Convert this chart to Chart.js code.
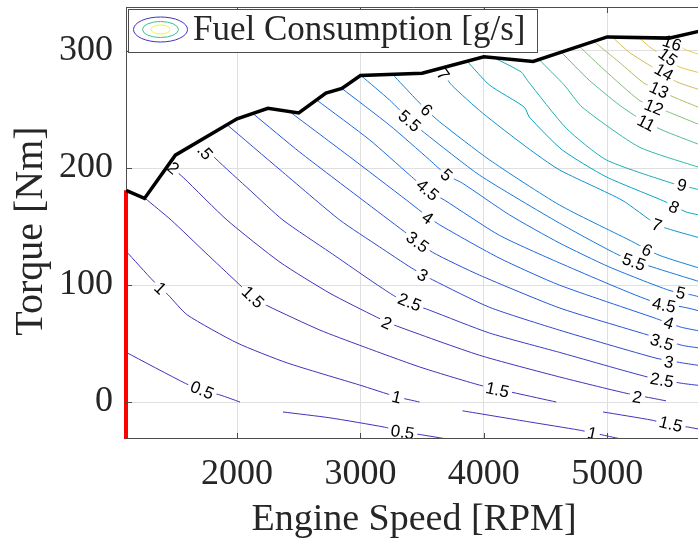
<!DOCTYPE html>
<html>
<head>
<meta charset="utf-8">
<script src="https://cdn.jsdelivr.net/npm/chart.js@4.4.1/dist/chart.umd.min.js"></script>
<style>
  html, body { margin: 0; padding: 0; background: #fff; overflow: hidden; }
  #wrap { position: absolute; left: 0; top: 0; width: 710px; height: 540px; }
</style>
</head>
<body>
<div id="wrap"><canvas id="fuelMap" width="710" height="540"></canvas></div>
<script>
// axis ranges and ticks
const speedMin = 1100, speedMax = 5760
const torqueMin = -31.6, torqueMax = 337.6
const speedTicks = [2000, 3000, 4000, 5000]
const torqueTicks = [0, 100, 200, 300]

// max torque curve
const maxSpeed = [1100, 1250, 1500, 2000, 2250, 2500, 2720, 2850, 3000, 3500, 4000, 4400, 5000, 5500, 5750]
const maxTorque = [181, 174, 211, 242, 251, 247, 264, 268, 279, 281, 295, 291, 312, 311, 317]

// contour levels [g/s]
const levels = [0.5, 1, 1.5, 2, 2.5, 3, 3.5, 4, 4.5, 5, 5.5, 6, 7, 8, 9, 10, 11, 12, 13, 14, 15, 16]

// contour lines as [rpm, Nm], null = break in the line
const c0_5 = [[1100,42.5],[1580,16],[1717,10],[1863,6],[2024,0],null,[2372,-8.5],[2752,-13.5],[3196,-21.5],[3342,-25.5],[3496,-28],[3780,-33]]
const c1 = [[1100,129],[1321,103.5],[1442,91.5],[1596,74.5],[2000,50.5],[2404,33.5],[2994,14.5],[3293,4.5],[3479,0],null,[3827,-7.5],[4369,-17],[4773,-24],[5000,-29],[5193,-33.5]]
const c1_5 = [[1256,174],[1466,155.5],[1741,128],[2008,101.5],[2129,89.5],[2251,82],[2671,61.5],[2994,48.5],[3479,30],[3964,14.5],[4264,7.5],[4587,0],null,[4967,-8.5],[5363,-15.5],[5516,-19.5],[5662,-21.5],[5760,-23.5]]
const c2 = [[1442,203],[1563,192],[1919,155.5],[2348,119.5],[2752,93],[3132,72.5],[3293,65],[3964,40],[4611,21.5],[5153,7.5],[5355,3.5],[5476,1]]
const c2_5 = [[1701,223],[1822,208.5],[2105,181],[2372,155.5],[2752,128],[3293,89.5],[3560,78.5],[4045,59],[4611,42.5],[5323,21.5],[5605,16],[5760,14]]
const c3 = [[1919,237],[2348,198.5],[2833,155.5],[3156,132.5],[3415,114.5],[3584,104.5],[4045,81],[4611,61.5],[5395,37.5],[5605,33.5],[5760,31]]
const c3_5 = [[2129,246.5],[2509,213.5],[3019,172.5],[3358,145.5],[3584,128],[3964,108.5],[4611,80.5],[5323,57.5],[5605,48.5],[5760,46]]
const c4 = [[2428,248],[2914,209.5],[3374,172.5],[3496,162.5],[3641,151.5],[4126,123],[4611,100],[5379,72],[5597,64],[5760,60.5]]
const c4_5 = [[2647,258],[3075,224],[3399,194],[3544,181],[3682,172.5],[4126,142.5],[4611,119],[5339,87],[5646,80.5],[5760,77.5]]
const c5 = [[2849,268],[3237,236.5],[3560,207],[3698,194],[3827,187],[4207,160],[4611,136],[5015,115.5],[5500,95.5],[5686,91.5],[5760,89.5]]
const c5_5 = [[3010,278.5],[3237,258],[3399,241],[3520,230],[3964,194],[4611,153],[5096,125.5],[5363,115.5],[5760,102.5]]
const c6 = [[3261,280],[3439,260],[3536,249.5],[3641,239.5],[4045,207],[4611,168.5],[5177,138.5],[5420,125.5],[5760,114]]
const c7 = [[3641,285],[3738,271],[3989,247],[4344,218],[4611,198.5],[5120,172.5],[5403,151.5],[5525,147],[5760,140]]
const c8 = [[3867,291],[4045,271],[4328,252],[4369,243.5],[4635,215.5],[4991,192.5],[5476,171],[5638,162.5],[5760,159.5]]
const c9 = [[4086,294],[4304,282],[4352,275],[4668,234],[4991,207],[5525,187],[5686,183],[5760,181]]
const c10 = [[4449,292.5],[4651,271],[4797,252],[5258,218],[5760,200]]
const c11 = [[4627,299],[4854,275],[5096,254],[5258,242.5],[5444,232.5],[5760,219.5]]
const c12 = [[4773,304],[4975,284],[5258,258],[5395,252],[5516,247],[5760,236.5]]
const c13 = [[4894,308],[5096,290.5],[5298,272.5],[5420,266.5],[5541,260.5],[5760,251]]
const c14 = [[5040,312],[5177,299],[5339,288],[5444,281],[5565,273.5],[5760,266.5]]
const c15 = [[5258,311.5],[5355,302.5],[5484,294],[5581,286.5],[5760,281]]
const c16 = [[5420,311],[5530,307],[5638,301],[5760,296.5]]

const contours = [c0_5, c1, c1_5, c2, c2_5, c3, c3_5, c4, c4_5, c5, c5_5, c6, c7, c8, c9, c10, c11, c12, c13, c14, c15, c16]

// inline contour labels: text, level, rpm, Nm
const labelText = ['0.5','0.5','1','1','1','1.5','1.5','1.5','2','2','2','.5','2.5','2.5','3','3','3.5','3.5','4','4','4.5','4.5','5','5','5.5','5.5','6','6','7','7','8','9','11','12','13','14','15','16']
const labelLevel = [0.5,0.5,1,1,1,1.5,1.5,1.5,2,2,2,2.5,2.5,2.5,3,3,3.5,3.5,4,4,4.5,4.5,5,5,5.5,5.5,6,6,7,7,8,9,11,12,13,14,15,16]
const labelSpeed = [1717,3342,1378,3293,4878,2129,4110,5516,1483,3213,5242,1741,3399,5444,3504,5500,3463,5444,3544,5500,3544,5460,3698,5597,3399,5217,3536,5323,3670,5403,5541,5605,5315,5379,5420,5460,5492,5525]
const labelTorque = [10.3,-25.6,97.4,4.3,-26.5,89.7,10.5,-18.8,200,67.5,4.3,213.7,85.5,18.8,108.5,34.2,136.8,51.3,157.3,67.5,181.2,82.9,194,93.2,240.2,119.7,249.6,129.9,280,151.3,166.7,185.5,238.5,252.1,266.7,282,294.9,306.8]

// parula-like colormap
const parula = [[66,50,186],[32,96,228],[20,133,215],[6,167,198],[56,185,158],[146,191,115],[225,185,82],[252,206,46],[249,251,14]]
function levelColor(v) {
  let t = Math.max(0, Math.min(1, (v - 2) / 16.5))
  const p = t * (parula.length - 1)
  const i = Math.min(Math.floor(p), parula.length - 2)
  const f = p - i
  const c = parula[i].map((a, k) => Math.round(a + (parula[i + 1][k] - a) * f))
  return 'rgb(' + c.join(',') + ')'
}

function toPoints(line) {
  let last = 0
  return line.map(p => {
    if (!p) return { x: last, y: null }
    last = p[0]
    return { x: p[0], y: p[1] }
  })
}

const serif = "'Liberation Serif', 'DejaVu Serif', serif"
const sans = "'Liberation Sans', Arial, sans-serif"
const textColor = '#262626'

const datasets = [
  {
    label: 'Max torque',
    data: maxSpeed.map((s, i) => ({ x: s, y: maxTorque[i] })),
    borderColor: '#000', borderWidth: 3.5, showLine: true, pointRadius: 0
  },
  {
    label: 'Min speed',
    data: [{ x: speedMin, y: torqueMin }, { x: speedMin, y: maxTorque[0] }],
    borderColor: '#ff0000', borderWidth: 4, showLine: true, pointRadius: 0,
    clip: 6,
    isSpeedLimit: true
  }
]
levels.forEach((v, i) => {
  datasets.push({
    label: 'FC ' + v,
    data: toPoints(contours[i]),
    borderColor: levelColor(v),
    borderWidth: 1,
    showLine: true,
    pointRadius: 0,
    tension: 0.2,
    isContour: true
  })
})

// label boxes in pixels, with angle along the line
function labelBoxes(chart) {
  const xs = chart.scales.x, ys = chart.scales.y
  const ctx = chart.ctx
  ctx.save()
  ctx.font = '17px ' + sans
  const boxes = labelText.map((txt, i) => {
    const cx = xs.getPixelForValue(labelSpeed[i])
    const cy = ys.getPixelForValue(labelTorque[i])
    const line = contours[levels.indexOf(labelLevel[i])].filter(p => p)
      .map(p => [xs.getPixelForValue(p[0]), ys.getPixelForValue(p[1])])
    let best = 1e9, ang = 0
    for (let k = 0; k < line.length - 1; k++) {
      const [x1, y1] = line[k], [x2, y2] = line[k + 1]
      const dx = x2 - x1, dy = y2 - y1
      const len2 = dx * dx + dy * dy || 1
      let t = ((cx - x1) * dx + (cy - y1) * dy) / len2
      t = Math.max(0, Math.min(1, t))
      const d = Math.hypot(x1 + t * dx - cx, y1 + t * dy - cy)
      if (d < best) { best = d; ang = Math.atan2(dy, dx) }
    }
    if (ang > Math.PI / 2) ang -= Math.PI
    if (ang < -Math.PI / 2) ang += Math.PI
    return { txt, cx, cy, ang, hw: ctx.measureText(txt).width / 2 + 3, hh: 7 }
  })
  ctx.restore()
  return boxes
}

// no extra room for tick labels, the plot area is fixed
function fixScale(s, size) {
  if (s.isHorizontal()) s.height = size; else s.width = size
  s.paddingLeft = 0; s.paddingRight = 0; s.paddingTop = 0; s.paddingBottom = 0
}

const mapPlugin = {
  id: 'fuelMap',
  beforeDatasetsDraw(chart) {
    chart.$boxes = labelBoxes(chart)
  },
  beforeDatasetDraw(chart, args) {
    const ds = chart.data.datasets[args.index]
    const ctx = chart.ctx
    if (ds.isContour) {
      const a = chart.chartArea
      ctx.save()
      ctx.beginPath()
      ctx.rect(a.left, a.top, a.right - a.left, a.bottom - a.top)
      chart.$boxes.forEach(b => {
        const c = Math.cos(b.ang), s = Math.sin(b.ang)
        const pts = [[-b.hw, -b.hh], [b.hw, -b.hh], [b.hw, b.hh], [-b.hw, b.hh]]
        pts.forEach(([dx, dy], k) => {
          const x = b.cx + dx * c - dy * s
          const y = b.cy + dx * s + dy * c
          if (k === 0) ctx.moveTo(x, y); else ctx.lineTo(x, y)
        })
        ctx.closePath()
      })
      ctx.clip('evenodd')
    }
    if (ds.isSpeedLimit) {
      // contour labels go under the torque curve
      const a = chart.chartArea
      ctx.save()
      ctx.beginPath()
      ctx.rect(a.left, a.top, a.right - a.left, a.bottom - a.top)
      ctx.clip()
      ctx.font = '17px ' + sans
      ctx.fillStyle = '#000'
      ctx.textAlign = 'center'
      ctx.textBaseline = 'middle'
      chart.$boxes.forEach(b => {
        ctx.save()
        ctx.translate(b.cx, b.cy)
        ctx.rotate(b.ang)
        ctx.fillText(b.txt, 0, 1)
        ctx.restore()
      })
      ctx.restore()
    }
  },
  afterDatasetDraw(chart, args) {
    if (chart.data.datasets[args.index].isContour) chart.ctx.restore()
  },
  afterDraw(chart) {
    const ctx = chart.ctx
    const a = chart.chartArea
    const xs = chart.scales.x, ys = chart.scales.y
    ctx.save()
    // axes box and inward ticks
    ctx.strokeStyle = '#4d4d4d'
    ctx.lineWidth = 1
    ctx.beginPath()
    ctx.moveTo(a.left, Math.round(a.top) + 0.5); ctx.lineTo(a.right, Math.round(a.top) + 0.5)
    ctx.moveTo(a.left, Math.round(a.bottom) - 0.5); ctx.lineTo(a.right, Math.round(a.bottom) - 0.5)
    ctx.moveTo(Math.round(a.right) - 0.5, a.top); ctx.lineTo(Math.round(a.right) - 0.5, a.bottom)
    speedTicks.forEach(v => {
      const x = Math.round(xs.getPixelForValue(v)) + 0.5
      ctx.moveTo(x, a.bottom); ctx.lineTo(x, a.bottom - 6)
      ctx.moveTo(x, a.top); ctx.lineTo(x, a.top + 6)
    })
    torqueTicks.forEach(v => {
      const y = Math.round(ys.getPixelForValue(v)) + 0.5
      ctx.moveTo(a.left, y); ctx.lineTo(a.left + 6, y)
    })
    ctx.stroke()
    // left axis line above the red speed limit
    ctx.beginPath()
    ctx.moveTo(Math.round(a.left) + 0.5, a.top)
    ctx.lineTo(Math.round(a.left) + 0.5, ys.getPixelForValue(maxTorque[0]))
    ctx.stroke()

    // legend
    ctx.fillStyle = '#fff'
    ctx.fillRect(128.5, 9.5, 409, 43)
    ctx.strokeStyle = '#4d4d4d'
    ctx.strokeRect(128.5, 9.5, 409, 43)
    const rings = [[27, 12.5, levelColor(0.5)], [18, 8, levelColor(10.5)], [9.5, 4.5, levelColor(19)]]
    rings.forEach(([rx, ry, col]) => {
      ctx.beginPath()
      ctx.ellipse(160.5, 29.5, rx, ry, 0, 0, Math.PI * 2)
      ctx.strokeStyle = col
      ctx.lineWidth = 1
      ctx.stroke()
    })
    ctx.fillStyle = textColor
    ctx.font = '35px ' + serif
    ctx.textAlign = 'left'
    ctx.textBaseline = 'alphabetic'
    ctx.fillText('Fuel Consumption [g/s]', 193, 40)

    // axis titles
    ctx.font = '38px ' + serif
    ctx.textAlign = 'center'
    ctx.fillText('Engine Speed [RPM]', 414, 530)
    ctx.translate(42, 231)
    ctx.rotate(-Math.PI / 2)
    ctx.font = '40px ' + serif
    ctx.fillText('Torque [Nm]', 0, 0)
    ctx.restore()
  }
}

new Chart(document.getElementById('fuelMap'), {
  type: 'scatter',
  data: { datasets },
  options: {
    responsive: false,
    animation: false,
    devicePixelRatio: 1,
    layout: { padding: { top: 7, right: 9, left: 0, bottom: 0 } },
    plugins: { legend: { display: false }, tooltip: { enabled: false } },
    scales: {
      x: {
        type: 'linear',
        min: speedMin,
        max: speedMax,
        afterBuildTicks: s => { s.ticks = speedTicks.map(v => ({ value: v })) },
        afterFit: s => fixScale(s, 101),
        grid: { color: '#dfdfdf', drawTicks: false },
        border: { display: false },
        ticks: {
          font: { family: serif, size: 36 },
          color: textColor,
          padding: 14,
          maxRotation: 0,
          callback: v => String(v)
        }
      },
      y: {
        type: 'linear',
        min: torqueMin,
        max: torqueMax,
        afterBuildTicks: s => { s.ticks = torqueTicks.map(v => ({ value: v })) },
        afterFit: s => fixScale(s, 126),
        grid: { color: '#dfdfdf', drawTicks: false },
        border: { display: false },
        ticks: {
          font: { family: serif, size: 36 },
          color: textColor,
          padding: 13,
          callback: v => String(v)
        }
      }
    }
  },
  plugins: [mapPlugin]
})
</script>
</body>
</html>
